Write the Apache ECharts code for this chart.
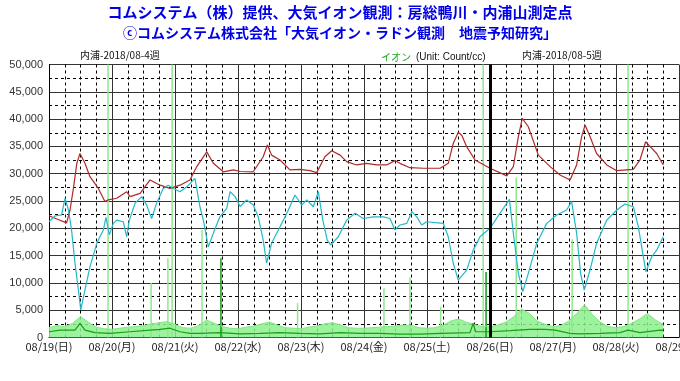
<!DOCTYPE html>
<html><head><meta charset="utf-8">
<script src="https://cdn.jsdelivr.net/npm/echarts@6/dist/echarts.min.js"></script>
<style>html,body{margin:0;padding:0;background:#fff}#c{width:680px;height:381px}</style>
</head><body><div id="c"></div>
<script>
// ---- data ----
const titleLine1 = 'コムシステム（株）提供、大気イオン観測：房総鴨川・内浦山測定点';
const titleLine2 = 'ⓒコムシステム株式会社「大気イオン・ラドン観測　地震予知研究」';
const weekLabel4 = '内浦-2018/08-4週';
const weekLabel5 = '内浦-2018/08-5週';
const ionLegend = 'イオン';
const unitLabel = '(Unit: Count/cc)';
const dayLabels = ['08/19(日)','08/20(月)','08/21(火)','08/22(水)','08/23(木)','08/24(金)','08/25(土)','08/26(日)','08/27(月)','08/28(火)','08/29(水)'];
const yTicks = [0,5000,10000,15000,20000,25000,30000,35000,40000,45000,50000];
const weekBoundaryHour = 168;

// hours since 08/19 00:00
const redHours = [0,3,6.7,8,9.3,10.6,11.8,13.7,15.6,18.8,21.3,22.6,25.8,29.6,30.9,34.7,38.5,42.3,46.1,49.9,53.7,56.3,60.1,62.6,66.4,70.2,72.8,77.8,81.6,83.2,84.8,88,91.8,95.6,99.4,102,105.1,107.7,110.9,113.4,117.2,121,124.8,128.6,131.8,133.7,137.5,142.6,149,152.1,154,155.9,157.3,159.1,162.3,168,174.4,176.9,178.8,180.3,182.6,186.4,190.9,194.7,198.5,201,202.9,204.2,206.1,208.6,212.5,216.3,222.6,225.1,227.3,229,231.5,234];
const redValues = [22300,21700,21000,23300,27300,31900,33700,31900,29450,27300,24900,25200,25500,26700,25800,26400,28850,27900,27300,27900,28850,31300,34000,31900,30350,30700,30400,30350,33100,35250,33400,32500,30700,30800,30550,30200,33100,34200,33400,32200,31600,31900,31600,31600,32400,31900,31100,31000,31000,31900,35550,37600,37000,34950,32500,31000,29600,31300,36800,40150,38600,33400,31300,29750,28850,31600,36800,38900,36800,33700,31600,30550,30800,32500,35850,34950,33700,31600];

const cyanHours = [0,2.3,4.8,6.1,7.4,8.6,9.9,11.2,12.1,13.7,15.6,18.2,20.7,21.7,23,24.5,25.8,28.3,29.6,30.6,32.8,35.3,37.2,39.1,41,43.5,45.4,47.4,49.9,52.5,55.6,57.5,58.8,60.7,62.6,65.1,67.7,69,70.9,72.8,75.3,77.8,79.7,81.6,82.9,84.8,88,91.2,93.7,96.3,98.2,100.7,102.6,104.3,106,107.3,110.2,113.4,116.6,119.7,123.5,127.4,129.9,131.8,133.7,136.3,138.2,140.1,142,143.9,150.2,152.1,154,155.9,159.1,161.6,164.2,168,171.8,175.4,176.9,178.8,180.5,182.6,185.8,189.6,193.4,197.2,199.1,201,202.5,203.9,206.1,208.6,212.5,216.3,219.4,222.6,224.5,226.4,227.4,229.6,231.5,234];
const cyanValues = [21200,22250,22450,25500,23350,19700,13600,8700,5050,8700,12950,17250,19700,22000,18800,20900,21500,21200,18450,21500,24600,25800,24250,21800,24600,27300,27900,27300,26700,27600,29150,23950,21500,16600,19100,22100,23650,26700,25800,24000,25200,24250,22100,17850,13600,17250,20300,23350,26100,24250,25200,23950,26700,21500,17850,16950,18450,21500,22750,21800,22100,22100,21800,19700,20600,20900,23050,22100,20600,21200,20900,18450,13600,10500,12350,16000,18450,20000,22750,25300,19100,11750,8400,11750,17250,20900,22450,23350,24900,19100,11750,8700,12350,17250,21500,23350,24450,23950,20300,14800,12050,14800,16000,18450];

// ion count: noisy band (light) sampled every 3 h
const ionBandHours = [0,3,6,9,12,15,18,21,24,27,30,33,36,39,42,45,48,51,54,57,60,63,66,69,72,75,78,81,84,87,90,93,96,99,102,105,108,111,114,117,120,123,126,129,132,135,138,141,144,147,150,153,156,159,162,165,168,171,174,177,180,183,186,189,192,195,198,201,204,207,210,213,216,219,222,225,228,231,234];
const ionBandValues = [1800,2200,2000,2600,3800,2800,1900,1600,1500,1700,1900,2000,2200,2500,2700,2900,2400,1800,1700,2200,3200,2600,2000,1700,1600,1900,2100,2500,2800,2300,1800,1700,1600,1900,2100,2500,2700,2300,1800,1700,1700,1800,1900,2000,2100,2300,2200,1800,1700,1800,2200,3000,3400,2800,2400,2000,2000,2300,2800,3800,5200,4400,3000,2400,2000,2200,3000,4400,6000,4200,2800,2000,1800,2000,2600,3400,4400,3200,2400];
// ion count: smoothed line (dark)
const ionLineHours = [0,4.2,9.9,11.8,13.7,17.5,23.2,30.9,38.5,42.3,46.1,49.9,53.7,57.5,65.1,72.8,80.4,88,95.6,103.2,110.9,118.5,126.1,133.7,141.4,149,160.4,161.6,162.5,168,175.6,183.2,188.9,192.8,198.5,202.3,209.9,217.5,220.6,225.1,232.8,234];
const ionLineValues = [1050,1350,1350,2600,1350,900,750,1050,1350,1500,1700,1050,750,750,900,650,750,900,750,650,900,750,750,600,600,750,900,2600,1050,1050,1250,1500,1500,1350,750,650,750,900,1350,900,1350,1300];
// isolated ion spikes
const spikeHours = [22.5,38.9,45.3,46.9,58.3,94.7,127.6,137.5,149.2,165.4,178,199.3,220.6];
const spikeValues = [60000,10000,14500,60000,19700,6300,9000,11000,5600,60000,29300,18000,60000];
const darkSpikeHours = [65.5,166.5];
const darkSpikeValues = [14500,12000];

// ---- chart ----
const pair = (xs, ys) => xs.map((x, i) => [x, ys[i]]);
const spikeData = spikeHours.map((h, i) => ({value: [h, spikeValues[i]], itemStyle: {color: '#8ee88e'}}))
  .concat(darkSpikeHours.map((h, i) => ({value: [h, darkSpikeValues[i]], itemStyle: {color: '#109a10'}})));
const chart = echarts.init(document.getElementById('c'), null, {renderer: 'canvas'});
const cjk = "'Noto Sans CJK JP', sans-serif";
const dashed = {color: '#000', width: 1, type: [3, 3]};
chart.setOption({
  animation: false,
  backgroundColor: '#fff',
  title: [
    {text: titleLine1, left: 'center', top: 0, textStyle: {fontFamily: cjk, fontWeight: 'bold', fontSize: 15, color: '#0000e6'}},
    {text: titleLine2, left: 'center', top: 21, textStyle: {fontFamily: cjk, fontWeight: 'bold', fontSize: 14, color: '#0000e6'}},
    {text: weekLabel4, left: 75, top: 45, textStyle: {fontFamily: cjk, fontWeight: 'normal', fontSize: 10, color: '#111'}},
    {text: ionLegend, left: 376, top: 47, textStyle: {fontFamily: cjk, fontWeight: 'normal', fontSize: 10, color: '#22aa22'}},
    {text: unitLabel, left: 411, top: 47, textStyle: {fontFamily: "'Liberation Sans', sans-serif", fontWeight: 'normal', fontSize: 10, color: '#111'}},
    {text: weekLabel5, left: 517, top: 45, textStyle: {fontFamily: cjk, fontWeight: 'normal', fontSize: 10, color: '#111'}}
  ],
  grid: {left: 49, right: 1, top: 64.5, bottom: 43.5, containLabel: false, outerBoundsMode: 'none'},
  xAxis: {
    type: 'value', min: 0, max: 240, interval: 24,
    axisLine: {show: true, lineStyle: {color: '#000', width: 1}},
    axisTick: {show: false},
    minorTick: {show: false, splitNumber: 4},
    axisLabel: {margin: 4, fontFamily: cjk, fontSize: 11, color: '#222', showMaxLabel: true, hideOverlap: false,
      alignMinLabel: 'center', alignMaxLabel: 'center',
      formatter: v => dayLabels[Math.round(v / 24)] || ''},
    splitLine: {show: true, lineStyle: {color: '#333', width: 1}},
    minorSplitLine: {show: true, lineStyle: dashed}
  },
  yAxis: {
    type: 'value', min: yTicks[0], max: yTicks[yTicks.length - 1], interval: yTicks[1] - yTicks[0],
    axisLine: {show: true, lineStyle: {color: '#000', width: 1}},
    axisTick: {show: false},
    minorTick: {show: false, splitNumber: 2},
    axisLabel: {margin: 6, fontFamily: "'Liberation Sans', sans-serif", fontSize: 11, color: '#333',
      formatter: v => v.toLocaleString('en-US')},
    splitLine: {show: true, lineStyle: {color: '#333', width: 1}},
    minorSplitLine: {show: true, lineStyle: dashed}
  },
  series: [
    {type: 'line', name: 'ionBand', data: pair(ionBandHours, ionBandValues), symbol: 'none',
      lineStyle: {color: '#7fe87f', width: 1}, areaStyle: {color: '#8cf08c', opacity: 0.85}, z: 2},
    {type: 'bar', name: 'spikes', data: spikeData, barWidth: 1.5, z: 2, clip: true},
    {type: 'line', name: 'ionLine', data: pair(ionLineHours, ionLineValues), symbol: 'none',
      lineStyle: {color: '#18a018', width: 1.2}, z: 3},
    {type: 'line', name: 'red', data: pair(redHours, redValues), symbol: 'none',
      lineStyle: {color: '#b02828', width: 1.2}, z: 4,
      markLine: {silent: true, symbol: ['none', 'none'], label: {show: false},
        lineStyle: {color: '#000', width: 3, type: 'solid'}, data: [{xAxis: weekBoundaryHour}]}},
    {type: 'line', name: 'cyan', data: pair(cyanHours, cyanValues), symbol: 'none',
      lineStyle: {color: '#22b8c8', width: 1.2}, z: 4}
  ]
});
</script></body></html>
